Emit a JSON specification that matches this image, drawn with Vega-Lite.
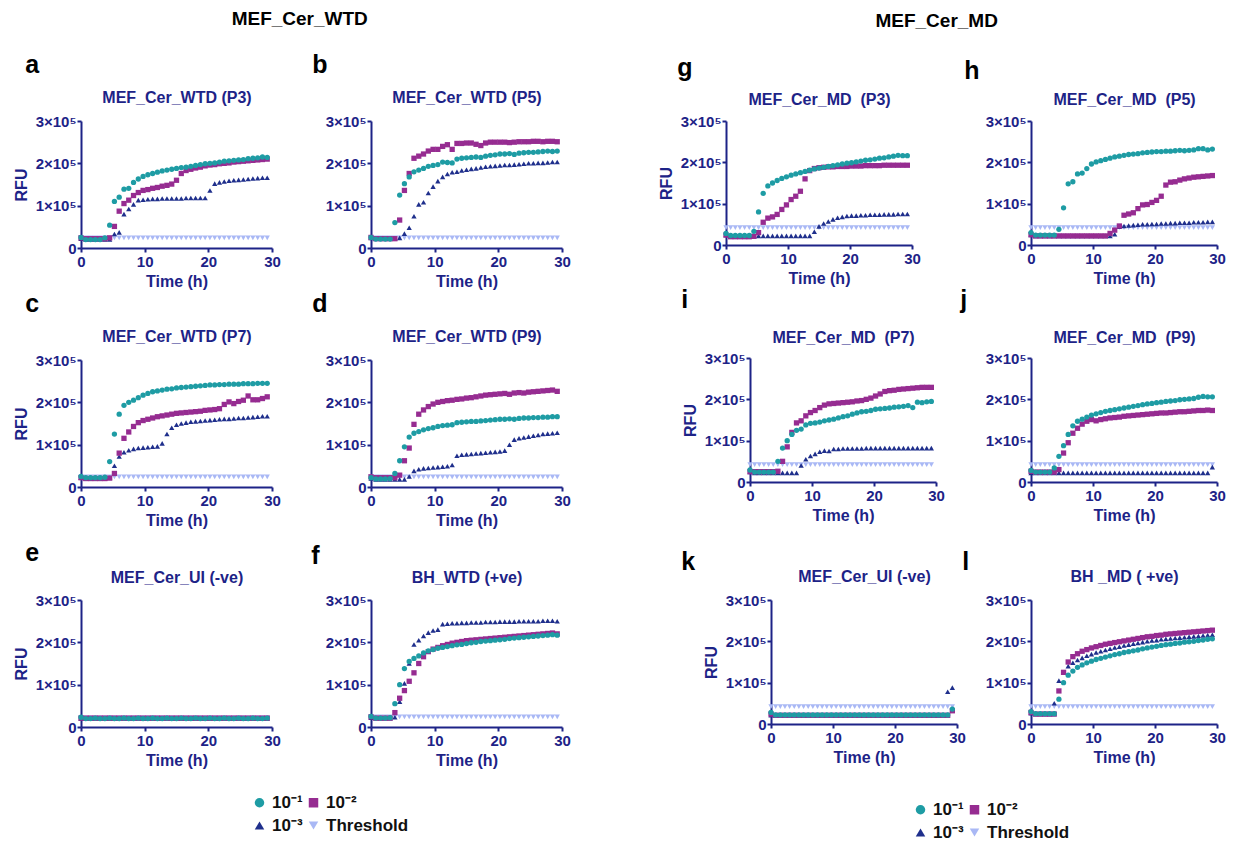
{
"$schema":"https://vega.github.io/schema/vega-lite/v6.json",
"background":"white",
"padding":{"left":13,"top":10,"right":0,"bottom":0},
"datasets":{
"a":[{"t":0,"d1":25,"d2":24,"d3":22,"th":24},{"t":0.75,"d1":20,"d2":22,"d3":20,"th":24},{"t":1.5,"d1":20,"d2":22,"d3":20,"th":24},{"t":2.25,"d1":20,"d2":22,"d3":20,"th":24},{"t":3,"d1":20,"d2":22,"d3":20,"th":24},{"t":3.75,"d1":24,"d2":22,"d3":20,"th":24},{"t":4.5,"d1":54,"d2":24,"d3":20,"th":24},{"t":5.25,"d1":110,"d2":51,"d3":33,"th":24},{"t":6,"d1":120,"d2":87,"d3":37,"th":24},{"t":6.75,"d1":139,"d2":105,"d3":80,"th":24},{"t":7.5,"d1":141,"d2":113,"d3":92,"th":24},{"t":8.25,"d1":155,"d2":124,"d3":103,"th":24},{"t":9,"d1":163,"d2":131,"d3":113,"th":24},{"t":9.75,"d1":169,"d2":136,"d3":114,"th":24},{"t":10.5,"d1":173,"d2":138,"d3":115,"th":24},{"t":11.25,"d1":176,"d2":141,"d3":116,"th":24},{"t":12,"d1":179,"d2":143,"d3":116,"th":24},{"t":12.75,"d1":182,"d2":146,"d3":117,"th":24},{"t":13.5,"d1":184,"d2":148,"d3":117,"th":24},{"t":14.25,"d1":186,"d2":151,"d3":117,"th":24},{"t":15,"d1":188,"d2":160,"d3":117,"th":24},{"t":15.75,"d1":190,"d2":176,"d3":117,"th":24},{"t":16.5,"d1":191,"d2":183,"d3":118,"th":24},{"t":17.25,"d1":193,"d2":186,"d3":118,"th":24},{"t":18,"d1":195,"d2":189,"d3":118,"th":24},{"t":18.75,"d1":197,"d2":191,"d3":118,"th":24},{"t":19.5,"d1":199,"d2":194,"d3":118,"th":24},{"t":20.25,"d1":200,"d2":196,"d3":136,"th":24},{"t":21,"d1":201,"d2":197,"d3":152,"th":24},{"t":21.75,"d1":203,"d2":199,"d3":155,"th":24},{"t":22.5,"d1":205,"d2":200,"d3":157,"th":24},{"t":23.25,"d1":206,"d2":201,"d3":159,"th":24},{"t":24,"d1":207,"d2":203,"d3":160,"th":24},{"t":24.75,"d1":208,"d2":204,"d3":161,"th":24},{"t":25.5,"d1":209,"d2":205,"d3":162,"th":24},{"t":26.25,"d1":211,"d2":206,"d3":163,"th":24},{"t":27,"d1":212,"d2":207,"d3":164,"th":24},{"t":27.75,"d1":213,"d2":208,"d3":165,"th":24},{"t":28.5,"d1":215,"d2":209,"d3":166,"th":24},{"t":29.25,"d1":214,"d2":210,"d3":166,"th":24}],
"b":[{"t":0,"d1":25,"d2":25,"d3":24,"th":24},{"t":0.75,"d1":21,"d2":22,"d3":22,"th":24},{"t":1.5,"d1":21,"d2":22,"d3":22,"th":24},{"t":2.25,"d1":21,"d2":22,"d3":22,"th":24},{"t":3,"d1":21,"d2":22,"d3":22,"th":24},{"t":3.75,"d1":60,"d2":22,"d3":22,"th":24},{"t":4.5,"d1":125,"d2":66,"d3":24,"th":24},{"t":5.25,"d1":152,"d2":136,"d3":34,"th":24},{"t":6,"d1":168,"d2":176,"d3":48,"th":24},{"t":6.75,"d1":180,"d2":212,"d3":75,"th":24},{"t":7.5,"d1":184,"d2":217,"d3":103,"th":24},{"t":8.25,"d1":188,"d2":222,"d3":108,"th":24},{"t":9,"d1":193,"d2":229,"d3":130,"th":24},{"t":9.75,"d1":195,"d2":233,"d3":145,"th":24},{"t":10.5,"d1":197,"d2":233,"d3":158,"th":24},{"t":11.25,"d1":203,"d2":240,"d3":168,"th":24},{"t":12,"d1":202,"d2":244,"d3":175,"th":24},{"t":12.75,"d1":201,"d2":233,"d3":179,"th":24},{"t":13.5,"d1":210,"d2":247,"d3":180,"th":24},{"t":14.25,"d1":212,"d2":247,"d3":183,"th":24},{"t":15,"d1":213,"d2":248,"d3":185,"th":24},{"t":15.75,"d1":214,"d2":248,"d3":187,"th":24},{"t":16.5,"d1":215,"d2":245,"d3":188,"th":24},{"t":17.25,"d1":214,"d2":242,"d3":190,"th":24},{"t":18,"d1":217,"d2":248,"d3":192,"th":24},{"t":18.75,"d1":219,"d2":250,"d3":193,"th":24},{"t":19.5,"d1":220,"d2":250,"d3":194,"th":24},{"t":20.25,"d1":222,"d2":250,"d3":195,"th":24},{"t":21,"d1":222,"d2":250,"d3":196,"th":24},{"t":21.75,"d1":223,"d2":249,"d3":196,"th":24},{"t":22.5,"d1":221,"d2":250,"d3":197,"th":24},{"t":23.25,"d1":224,"d2":251,"d3":198,"th":24},{"t":24,"d1":225,"d2":251,"d3":199,"th":24},{"t":24.75,"d1":226,"d2":251,"d3":200,"th":24},{"t":25.5,"d1":226,"d2":252,"d3":200,"th":24},{"t":26.25,"d1":227,"d2":252,"d3":201,"th":24},{"t":27,"d1":228,"d2":251,"d3":201,"th":24},{"t":27.75,"d1":229,"d2":252,"d3":202,"th":24},{"t":28.5,"d1":228,"d2":252,"d3":203,"th":24},{"t":29.25,"d1":229,"d2":251,"d3":203,"th":24}],
"c":[{"t":0,"d1":25,"d2":22,"d3":22,"th":24},{"t":0.75,"d1":22,"d2":20,"d3":20,"th":24},{"t":1.5,"d1":22,"d2":20,"d3":20,"th":24},{"t":2.25,"d1":22,"d2":20,"d3":20,"th":24},{"t":3,"d1":22,"d2":20,"d3":20,"th":24},{"t":3.75,"d1":23,"d2":20,"d3":20,"th":24},{"t":4.5,"d1":60,"d2":21,"d3":22,"th":24},{"t":5.25,"d1":125,"d2":32,"d3":50,"th":24},{"t":6,"d1":172,"d2":80,"d3":72,"th":24},{"t":6.75,"d1":193,"d2":115,"d3":82,"th":24},{"t":7.5,"d1":200,"d2":130,"d3":87,"th":24},{"t":8.25,"d1":205,"d2":143,"d3":90,"th":24},{"t":9,"d1":211,"d2":152,"d3":92,"th":24},{"t":9.75,"d1":217,"d2":157,"d3":93,"th":24},{"t":10.5,"d1":221,"d2":160,"d3":94,"th":24},{"t":11.25,"d1":225,"d2":163,"d3":95,"th":24},{"t":12,"d1":227,"d2":166,"d3":96,"th":24},{"t":12.75,"d1":229,"d2":168,"d3":103,"th":24},{"t":13.5,"d1":231,"d2":170,"d3":125,"th":24},{"t":14.25,"d1":232,"d2":172,"d3":140,"th":24},{"t":15,"d1":234,"d2":174,"d3":147,"th":24},{"t":15.75,"d1":235,"d2":175,"d3":150,"th":24},{"t":16.5,"d1":236,"d2":176,"d3":152,"th":24},{"t":17.25,"d1":237,"d2":177,"d3":154,"th":24},{"t":18,"d1":238,"d2":178,"d3":155,"th":24},{"t":18.75,"d1":239,"d2":179,"d3":156,"th":24},{"t":19.5,"d1":240,"d2":181,"d3":157,"th":24},{"t":20.25,"d1":241,"d2":182,"d3":158,"th":24},{"t":21,"d1":241,"d2":183,"d3":159,"th":24},{"t":21.75,"d1":242,"d2":185,"d3":160,"th":24},{"t":22.5,"d1":242,"d2":195,"d3":161,"th":24},{"t":23.25,"d1":243,"d2":201,"d3":161,"th":24},{"t":24,"d1":243,"d2":197,"d3":162,"th":24},{"t":24.75,"d1":243,"d2":202,"d3":163,"th":24},{"t":25.5,"d1":244,"d2":205,"d3":163,"th":24},{"t":26.25,"d1":244,"d2":215,"d3":164,"th":24},{"t":27,"d1":244,"d2":206,"d3":165,"th":24},{"t":27.75,"d1":245,"d2":206,"d3":166,"th":24},{"t":28.5,"d1":245,"d2":209,"d3":167,"th":24},{"t":29.25,"d1":245,"d2":213,"d3":167,"th":24}],
"d":[{"t":0,"d1":22,"d2":24,"d3":20,"th":24},{"t":0.75,"d1":19,"d2":22,"d3":18,"th":24},{"t":1.5,"d1":19,"d2":22,"d3":18,"th":24},{"t":2.25,"d1":19,"d2":22,"d3":18,"th":24},{"t":3,"d1":20,"d2":22,"d3":18,"th":24},{"t":3.75,"d1":32,"d2":22,"d3":18,"th":24},{"t":4.5,"d1":62,"d2":28,"d3":18,"th":24},{"t":5.25,"d1":95,"d2":62,"d3":18,"th":24},{"t":6,"d1":118,"d2":92,"d3":25,"th":24},{"t":6.75,"d1":127,"d2":148,"d3":38,"th":24},{"t":7.5,"d1":131,"d2":172,"d3":42,"th":24},{"t":8.25,"d1":135,"d2":182,"d3":44,"th":24},{"t":9,"d1":138,"d2":190,"d3":45,"th":24},{"t":9.75,"d1":140,"d2":196,"d3":46,"th":24},{"t":10.5,"d1":143,"d2":200,"d3":47,"th":24},{"t":11.25,"d1":145,"d2":202,"d3":48,"th":24},{"t":12,"d1":146,"d2":204,"d3":49,"th":24},{"t":12.75,"d1":147,"d2":205,"d3":52,"th":24},{"t":13.5,"d1":152,"d2":207,"d3":74,"th":24},{"t":14.25,"d1":153,"d2":208,"d3":76,"th":24},{"t":15,"d1":154,"d2":210,"d3":77,"th":24},{"t":15.75,"d1":155,"d2":211,"d3":78,"th":24},{"t":16.5,"d1":155,"d2":213,"d3":79,"th":24},{"t":17.25,"d1":156,"d2":215,"d3":80,"th":24},{"t":18,"d1":157,"d2":217,"d3":81,"th":24},{"t":18.75,"d1":158,"d2":218,"d3":82,"th":24},{"t":19.5,"d1":159,"d2":219,"d3":83,"th":24},{"t":20.25,"d1":160,"d2":220,"d3":84,"th":24},{"t":21,"d1":160,"d2":221,"d3":86,"th":24},{"t":21.75,"d1":161,"d2":219,"d3":100,"th":24},{"t":22.5,"d1":160,"d2":222,"d3":112,"th":24},{"t":23.25,"d1":162,"d2":223,"d3":115,"th":24},{"t":24,"d1":163,"d2":222,"d3":117,"th":24},{"t":24.75,"d1":163,"d2":224,"d3":119,"th":24},{"t":25.5,"d1":164,"d2":225,"d3":121,"th":24},{"t":26.25,"d1":164,"d2":226,"d3":123,"th":24},{"t":27,"d1":165,"d2":227,"d3":125,"th":24},{"t":27.75,"d1":165,"d2":228,"d3":126,"th":24},{"t":28.5,"d1":166,"d2":229,"d3":127,"th":24},{"t":29.25,"d1":166,"d2":226,"d3":128,"th":24}],
"e":[{"t":0,"d1":23,"d2":21,"d3":20,"th":22},{"t":0.75,"d1":20,"d2":21,"d3":20,"th":22},{"t":1.5,"d1":20,"d2":21,"d3":20,"th":22},{"t":2.25,"d1":21,"d2":21,"d3":20,"th":22},{"t":3,"d1":20,"d2":21,"d3":20,"th":22},{"t":3.75,"d1":20,"d2":21,"d3":20,"th":22},{"t":4.5,"d1":21,"d2":21,"d3":20,"th":22},{"t":5.25,"d1":20,"d2":21,"d3":20,"th":22},{"t":6,"d1":20,"d2":21,"d3":20,"th":22},{"t":6.75,"d1":21,"d2":21,"d3":20,"th":22},{"t":7.5,"d1":20,"d2":21,"d3":20,"th":22},{"t":8.25,"d1":20,"d2":21,"d3":20,"th":22},{"t":9,"d1":21,"d2":21,"d3":20,"th":22},{"t":9.75,"d1":20,"d2":21,"d3":20,"th":22},{"t":10.5,"d1":20,"d2":21,"d3":20,"th":22},{"t":11.25,"d1":21,"d2":21,"d3":20,"th":22},{"t":12,"d1":20,"d2":21,"d3":20,"th":22},{"t":12.75,"d1":20,"d2":21,"d3":20,"th":22},{"t":13.5,"d1":21,"d2":21,"d3":20,"th":22},{"t":14.25,"d1":20,"d2":21,"d3":20,"th":22},{"t":15,"d1":20,"d2":21,"d3":20,"th":22},{"t":15.75,"d1":21,"d2":21,"d3":20,"th":22},{"t":16.5,"d1":20,"d2":21,"d3":20,"th":22},{"t":17.25,"d1":20,"d2":21,"d3":20,"th":22},{"t":18,"d1":21,"d2":21,"d3":20,"th":22},{"t":18.75,"d1":20,"d2":21,"d3":20,"th":22},{"t":19.5,"d1":20,"d2":21,"d3":20,"th":22},{"t":20.25,"d1":21,"d2":21,"d3":20,"th":22},{"t":21,"d1":20,"d2":21,"d3":20,"th":22},{"t":21.75,"d1":20,"d2":21,"d3":20,"th":22},{"t":22.5,"d1":21,"d2":21,"d3":20,"th":22},{"t":23.25,"d1":20,"d2":21,"d3":20,"th":22},{"t":24,"d1":20,"d2":21,"d3":20,"th":22},{"t":24.75,"d1":21,"d2":21,"d3":20,"th":22},{"t":25.5,"d1":20,"d2":21,"d3":20,"th":22},{"t":26.25,"d1":20,"d2":21,"d3":20,"th":22},{"t":27,"d1":21,"d2":21,"d3":20,"th":22},{"t":27.75,"d1":20,"d2":21,"d3":20,"th":22},{"t":28.5,"d1":20,"d2":21,"d3":20,"th":22},{"t":29.25,"d1":21,"d2":21,"d3":20,"th":22}],
"f":[{"t":0,"d1":25,"d2":24,"d3":22,"th":24},{"t":0.75,"d1":21,"d2":21,"d3":21,"th":24},{"t":1.5,"d1":21,"d2":21,"d3":21,"th":24},{"t":2.25,"d1":21,"d2":21,"d3":21,"th":24},{"t":3,"d1":22,"d2":21,"d3":21,"th":24},{"t":3.75,"d1":55,"d2":34,"d3":23,"th":24},{"t":4.5,"d1":100,"d2":68,"d3":60,"th":24},{"t":5.25,"d1":138,"d2":86,"d3":103,"th":24},{"t":6,"d1":155,"d2":108,"d3":150,"th":24},{"t":6.75,"d1":162,"d2":128,"d3":195,"th":24},{"t":7.5,"d1":168,"d2":150,"d3":205,"th":24},{"t":8.25,"d1":175,"d2":166,"d3":215,"th":24},{"t":9,"d1":180,"d2":178,"d3":223,"th":24},{"t":9.75,"d1":183,"d2":184,"d3":228,"th":24},{"t":10.5,"d1":186,"d2":188,"d3":230,"th":24},{"t":11.25,"d1":188,"d2":192,"d3":243,"th":24},{"t":12,"d1":190,"d2":195,"d3":244,"th":24},{"t":12.75,"d1":192,"d2":198,"d3":245,"th":24},{"t":13.5,"d1":194,"d2":200,"d3":245,"th":24},{"t":14.25,"d1":195,"d2":202,"d3":246,"th":24},{"t":15,"d1":197,"d2":204,"d3":246,"th":24},{"t":15.75,"d1":199,"d2":205,"d3":247,"th":24},{"t":16.5,"d1":200,"d2":206,"d3":247,"th":24},{"t":17.25,"d1":202,"d2":207,"d3":247,"th":24},{"t":18,"d1":203,"d2":208,"d3":248,"th":24},{"t":18.75,"d1":204,"d2":209,"d3":248,"th":24},{"t":19.5,"d1":205,"d2":210,"d3":248,"th":24},{"t":20.25,"d1":206,"d2":211,"d3":249,"th":24},{"t":21,"d1":207,"d2":212,"d3":249,"th":24},{"t":21.75,"d1":209,"d2":213,"d3":249,"th":24},{"t":22.5,"d1":210,"d2":214,"d3":249,"th":24},{"t":23.25,"d1":211,"d2":215,"d3":250,"th":24},{"t":24,"d1":212,"d2":216,"d3":250,"th":24},{"t":24.75,"d1":213,"d2":217,"d3":250,"th":24},{"t":25.5,"d1":214,"d2":218,"d3":250,"th":24},{"t":26.25,"d1":215,"d2":219,"d3":250,"th":24},{"t":27,"d1":216,"d2":220,"d3":251,"th":24},{"t":27.75,"d1":217,"d2":221,"d3":251,"th":24},{"t":28.5,"d1":218,"d2":222,"d3":251,"th":24},{"t":29.25,"d1":217,"d2":220,"d3":250,"th":24}],
"g":[{"t":0,"d1":28,"d2":24,"d3":24,"th":42},{"t":0.75,"d1":23,"d2":20,"d3":22,"th":42},{"t":1.5,"d1":23,"d2":20,"d3":22,"th":42},{"t":2.25,"d1":23,"d2":20,"d3":22,"th":42},{"t":3,"d1":23,"d2":20,"d3":22,"th":42},{"t":3.75,"d1":23,"d2":20,"d3":22,"th":42},{"t":4.5,"d1":33,"d2":21,"d3":22,"th":42},{"t":5.25,"d1":80,"d2":30,"d3":22,"th":42},{"t":6,"d1":125,"d2":55,"d3":22,"th":42},{"t":6.75,"d1":143,"d2":65,"d3":22,"th":42},{"t":7.5,"d1":150,"d2":68,"d3":22,"th":42},{"t":8.25,"d1":156,"d2":74,"d3":22,"th":42},{"t":9,"d1":161,"d2":86,"d3":22,"th":42},{"t":9.75,"d1":165,"d2":97,"d3":22,"th":42},{"t":10.5,"d1":169,"d2":110,"d3":22,"th":42},{"t":11.25,"d1":172,"d2":118,"d3":22,"th":42},{"t":12,"d1":175,"d2":130,"d3":22,"th":42},{"t":12.75,"d1":178,"d2":160,"d3":22,"th":42},{"t":13.5,"d1":181,"d2":180,"d3":22,"th":42},{"t":14.25,"d1":184,"d2":185,"d3":32,"th":42},{"t":15,"d1":186,"d2":187,"d3":45,"th":42},{"t":15.75,"d1":188,"d2":188,"d3":52,"th":42},{"t":16.5,"d1":190,"d2":189,"d3":57,"th":42},{"t":17.25,"d1":192,"d2":189,"d3":62,"th":42},{"t":18,"d1":194,"d2":190,"d3":66,"th":42},{"t":18.75,"d1":196,"d2":190,"d3":68,"th":42},{"t":19.5,"d1":198,"d2":190,"d3":70,"th":42},{"t":20.25,"d1":199,"d2":191,"d3":71,"th":42},{"t":21,"d1":201,"d2":191,"d3":71,"th":42},{"t":21.75,"d1":203,"d2":191,"d3":72,"th":42},{"t":22.5,"d1":205,"d2":192,"d3":72,"th":42},{"t":23.25,"d1":206,"d2":192,"d3":73,"th":42},{"t":24,"d1":208,"d2":192,"d3":73,"th":42},{"t":24.75,"d1":210,"d2":192,"d3":73,"th":42},{"t":25.5,"d1":211,"d2":193,"d3":74,"th":42},{"t":26.25,"d1":213,"d2":193,"d3":74,"th":42},{"t":27,"d1":215,"d2":193,"d3":74,"th":42},{"t":27.75,"d1":217,"d2":193,"d3":75,"th":42},{"t":28.5,"d1":216,"d2":193,"d3":75,"th":42},{"t":29.25,"d1":216,"d2":193,"d3":75,"th":42}],
"h":[{"t":0,"d1":30,"d2":25,"d3":24,"th":42},{"t":0.75,"d1":24,"d2":22,"d3":22,"th":42},{"t":1.5,"d1":24,"d2":22,"d3":22,"th":42},{"t":2.25,"d1":24,"d2":22,"d3":22,"th":42},{"t":3,"d1":24,"d2":22,"d3":22,"th":42},{"t":3.75,"d1":24,"d2":22,"d3":22,"th":42},{"t":4.5,"d1":38,"d2":22,"d3":22,"th":42},{"t":5.25,"d1":90,"d2":22,"d3":22,"th":42},{"t":6,"d1":148,"d2":22,"d3":22,"th":42},{"t":6.75,"d1":153,"d2":22,"d3":22,"th":42},{"t":7.5,"d1":172,"d2":22,"d3":22,"th":42},{"t":8.25,"d1":174,"d2":22,"d3":22,"th":42},{"t":9,"d1":185,"d2":22,"d3":22,"th":42},{"t":9.75,"d1":196,"d2":22,"d3":22,"th":42},{"t":10.5,"d1":201,"d2":22,"d3":22,"th":42},{"t":11.25,"d1":204,"d2":22,"d3":22,"th":42},{"t":12,"d1":207,"d2":22,"d3":22,"th":42},{"t":12.75,"d1":210,"d2":28,"d3":22,"th":42},{"t":13.5,"d1":213,"d2":36,"d3":26,"th":42},{"t":14.25,"d1":215,"d2":46,"d3":44,"th":42},{"t":15,"d1":217,"d2":72,"d3":46,"th":42},{"t":15.75,"d1":219,"d2":75,"d3":47,"th":42},{"t":16.5,"d1":220,"d2":78,"d3":48,"th":42},{"t":17.25,"d1":221,"d2":88,"d3":49,"th":42},{"t":18,"d1":223,"d2":97,"d3":50,"th":42},{"t":18.75,"d1":224,"d2":98,"d3":50,"th":42},{"t":19.5,"d1":225,"d2":103,"d3":51,"th":42},{"t":20.25,"d1":226,"d2":108,"d3":51,"th":42},{"t":21,"d1":226,"d2":118,"d3":52,"th":42},{"t":21.75,"d1":227,"d2":145,"d3":52,"th":42},{"t":22.5,"d1":227,"d2":152,"d3":53,"th":42},{"t":23.25,"d1":228,"d2":153,"d3":53,"th":42},{"t":24,"d1":229,"d2":157,"d3":54,"th":42},{"t":24.75,"d1":228,"d2":160,"d3":54,"th":42},{"t":25.5,"d1":229,"d2":162,"d3":54,"th":42},{"t":26.25,"d1":230,"d2":164,"d3":55,"th":42},{"t":27,"d1":233,"d2":165,"d3":55,"th":42},{"t":27.75,"d1":233,"d2":166,"d3":55,"th":42},{"t":28.5,"d1":230,"d2":167,"d3":56,"th":42},{"t":29.25,"d1":232,"d2":168,"d3":56,"th":42}],
"i":[{"t":0,"d1":29,"d2":25,"d3":24,"th":42},{"t":0.75,"d1":24,"d2":25,"d3":22,"th":42},{"t":1.5,"d1":24,"d2":25,"d3":22,"th":42},{"t":2.25,"d1":24,"d2":25,"d3":22,"th":42},{"t":3,"d1":24,"d2":25,"d3":22,"th":42},{"t":3.75,"d1":24,"d2":25,"d3":22,"th":42},{"t":4.5,"d1":50,"d2":26,"d3":22,"th":42},{"t":5.25,"d1":82,"d2":50,"d3":22,"th":42},{"t":6,"d1":100,"d2":85,"d3":22,"th":42},{"t":6.75,"d1":115,"d2":120,"d3":22,"th":42},{"t":7.5,"d1":125,"d2":143,"d3":22,"th":42},{"t":8.25,"d1":128,"d2":148,"d3":40,"th":42},{"t":9,"d1":138,"d2":160,"d3":55,"th":42},{"t":9.75,"d1":142,"d2":168,"d3":63,"th":42},{"t":10.5,"d1":143,"d2":173,"d3":68,"th":42},{"t":11.25,"d1":145,"d2":180,"d3":73,"th":42},{"t":12,"d1":148,"d2":186,"d3":76,"th":42},{"t":12.75,"d1":150,"d2":189,"d3":75,"th":42},{"t":13.5,"d1":152,"d2":190,"d3":80,"th":42},{"t":14.25,"d1":155,"d2":191,"d3":80,"th":42},{"t":15,"d1":158,"d2":192,"d3":81,"th":42},{"t":15.75,"d1":160,"d2":193,"d3":81,"th":42},{"t":16.5,"d1":164,"d2":194,"d3":81,"th":42},{"t":17.25,"d1":167,"d2":196,"d3":81,"th":42},{"t":18,"d1":170,"d2":197,"d3":81,"th":42},{"t":18.75,"d1":171,"d2":200,"d3":82,"th":42},{"t":19.5,"d1":173,"d2":203,"d3":82,"th":42},{"t":20.25,"d1":176,"d2":208,"d3":82,"th":42},{"t":21,"d1":177,"d2":213,"d3":82,"th":42},{"t":21.75,"d1":178,"d2":219,"d3":82,"th":42},{"t":22.5,"d1":179,"d2":221,"d3":82,"th":42},{"t":23.25,"d1":181,"d2":222,"d3":82,"th":42},{"t":24,"d1":182,"d2":224,"d3":82,"th":42},{"t":24.75,"d1":183,"d2":225,"d3":82,"th":42},{"t":25.5,"d1":185,"d2":226,"d3":82,"th":42},{"t":26.25,"d1":180,"d2":227,"d3":82,"th":42},{"t":27,"d1":193,"d2":228,"d3":82,"th":42},{"t":27.75,"d1":192,"d2":229,"d3":82,"th":42},{"t":28.5,"d1":194,"d2":229,"d3":82,"th":42},{"t":29.25,"d1":195,"d2":229,"d3":82,"th":42}],
"j":[{"t":0,"d1":28,"d2":26,"d3":22,"th":42},{"t":0.75,"d1":24,"d2":24,"d3":22,"th":42},{"t":1.5,"d1":24,"d2":24,"d3":22,"th":42},{"t":2.25,"d1":24,"d2":24,"d3":22,"th":42},{"t":3,"d1":24,"d2":24,"d3":22,"th":42},{"t":3.75,"d1":34,"d2":24,"d3":22,"th":42},{"t":4.5,"d1":62,"d2":30,"d3":22,"th":42},{"t":5.25,"d1":88,"d2":70,"d3":22,"th":42},{"t":6,"d1":115,"d2":95,"d3":22,"th":42},{"t":6.75,"d1":136,"d2":118,"d3":22,"th":42},{"t":7.5,"d1":147,"d2":130,"d3":22,"th":42},{"t":8.25,"d1":152,"d2":140,"d3":22,"th":42},{"t":9,"d1":157,"d2":147,"d3":22,"th":42},{"t":9.75,"d1":162,"d2":151,"d3":22,"th":42},{"t":10.5,"d1":165,"d2":148,"d3":22,"th":42},{"t":11.25,"d1":168,"d2":151,"d3":22,"th":42},{"t":12,"d1":171,"d2":153,"d3":22,"th":42},{"t":12.75,"d1":173,"d2":155,"d3":22,"th":42},{"t":13.5,"d1":175,"d2":156,"d3":22,"th":42},{"t":14.25,"d1":177,"d2":157,"d3":22,"th":42},{"t":15,"d1":179,"d2":159,"d3":22,"th":42},{"t":15.75,"d1":181,"d2":160,"d3":22,"th":42},{"t":16.5,"d1":183,"d2":161,"d3":22,"th":42},{"t":17.25,"d1":185,"d2":162,"d3":22,"th":42},{"t":18,"d1":187,"d2":163,"d3":22,"th":42},{"t":18.75,"d1":189,"d2":164,"d3":22,"th":42},{"t":19.5,"d1":190,"d2":165,"d3":22,"th":42},{"t":20.25,"d1":192,"d2":166,"d3":22,"th":42},{"t":21,"d1":193,"d2":167,"d3":22,"th":42},{"t":21.75,"d1":195,"d2":167,"d3":22,"th":42},{"t":22.5,"d1":196,"d2":168,"d3":22,"th":42},{"t":23.25,"d1":197,"d2":169,"d3":22,"th":42},{"t":24,"d1":199,"d2":170,"d3":22,"th":42},{"t":24.75,"d1":200,"d2":170,"d3":22,"th":42},{"t":25.5,"d1":201,"d2":171,"d3":22,"th":42},{"t":26.25,"d1":202,"d2":172,"d3":22,"th":42},{"t":27,"d1":205,"d2":173,"d3":22,"th":42},{"t":27.75,"d1":207,"d2":173,"d3":22,"th":42},{"t":28.5,"d1":206,"d2":174,"d3":22,"th":42},{"t":29.25,"d1":206,"d2":173,"d3":36,"th":42}],
"k":[{"t":0,"d1":28,"d2":24,"d3":21,"th":42},{"t":0.75,"d1":22,"d2":21,"d3":21,"th":42},{"t":1.5,"d1":22,"d2":21,"d3":21,"th":42},{"t":2.25,"d1":22,"d2":21,"d3":21,"th":42},{"t":3,"d1":22,"d2":21,"d3":21,"th":42},{"t":3.75,"d1":22,"d2":21,"d3":21,"th":42},{"t":4.5,"d1":22,"d2":21,"d3":21,"th":42},{"t":5.25,"d1":22,"d2":21,"d3":21,"th":42},{"t":6,"d1":22,"d2":21,"d3":21,"th":42},{"t":6.75,"d1":22,"d2":21,"d3":21,"th":42},{"t":7.5,"d1":22,"d2":21,"d3":21,"th":42},{"t":8.25,"d1":22,"d2":21,"d3":21,"th":42},{"t":9,"d1":22,"d2":21,"d3":21,"th":42},{"t":9.75,"d1":22,"d2":21,"d3":21,"th":42},{"t":10.5,"d1":22,"d2":21,"d3":21,"th":42},{"t":11.25,"d1":22,"d2":21,"d3":21,"th":42},{"t":12,"d1":22,"d2":21,"d3":21,"th":42},{"t":12.75,"d1":22,"d2":21,"d3":21,"th":42},{"t":13.5,"d1":22,"d2":21,"d3":21,"th":42},{"t":14.25,"d1":22,"d2":21,"d3":21,"th":42},{"t":15,"d1":22,"d2":21,"d3":21,"th":42},{"t":15.75,"d1":22,"d2":21,"d3":21,"th":42},{"t":16.5,"d1":22,"d2":21,"d3":21,"th":42},{"t":17.25,"d1":22,"d2":21,"d3":21,"th":42},{"t":18,"d1":22,"d2":21,"d3":21,"th":42},{"t":18.75,"d1":22,"d2":21,"d3":21,"th":42},{"t":19.5,"d1":22,"d2":21,"d3":21,"th":42},{"t":20.25,"d1":22,"d2":21,"d3":21,"th":42},{"t":21,"d1":22,"d2":21,"d3":21,"th":42},{"t":21.75,"d1":22,"d2":21,"d3":21,"th":42},{"t":22.5,"d1":22,"d2":21,"d3":21,"th":42},{"t":23.25,"d1":22,"d2":21,"d3":21,"th":42},{"t":24,"d1":22,"d2":21,"d3":21,"th":42},{"t":24.75,"d1":22,"d2":21,"d3":21,"th":42},{"t":25.5,"d1":22,"d2":21,"d3":21,"th":42},{"t":26.25,"d1":22,"d2":21,"d3":21,"th":42},{"t":27,"d1":22,"d2":21,"d3":21,"th":42},{"t":27.75,"d1":22,"d2":21,"d3":21,"th":42},{"t":28.5,"d1":22,"d2":21,"d3":78,"th":42},{"t":29.25,"d1":36,"d2":32,"d3":88,"th":42}],
"l":[{"t":0,"d1":30,"d2":28,"d3":26,"th":42},{"t":0.75,"d1":25,"d2":24,"d3":24,"th":42},{"t":1.5,"d1":25,"d2":24,"d3":24,"th":42},{"t":2.25,"d1":25,"d2":24,"d3":24,"th":42},{"t":3,"d1":25,"d2":24,"d3":24,"th":42},{"t":3.75,"d1":25,"d2":24,"d3":50,"th":42},{"t":4.5,"d1":60,"d2":80,"d3":105,"th":42},{"t":5.25,"d1":100,"d2":125,"d3":125,"th":42},{"t":6,"d1":118,"d2":150,"d3":140,"th":42},{"t":6.75,"d1":128,"d2":163,"d3":148,"th":42},{"t":7.5,"d1":137,"d2":170,"d3":155,"th":42},{"t":8.25,"d1":143,"d2":176,"d3":160,"th":42},{"t":9,"d1":148,"d2":180,"d3":165,"th":42},{"t":9.75,"d1":152,"d2":184,"d3":169,"th":42},{"t":10.5,"d1":156,"d2":187,"d3":173,"th":42},{"t":11.25,"d1":159,"d2":190,"d3":176,"th":42},{"t":12,"d1":162,"d2":193,"d3":179,"th":42},{"t":12.75,"d1":165,"d2":195,"d3":182,"th":42},{"t":13.5,"d1":168,"d2":197,"d3":185,"th":42},{"t":14.25,"d1":170,"d2":199,"d3":187,"th":42},{"t":15,"d1":173,"d2":201,"d3":190,"th":42},{"t":15.75,"d1":175,"d2":203,"d3":192,"th":42},{"t":16.5,"d1":177,"d2":205,"d3":194,"th":42},{"t":17.25,"d1":179,"d2":207,"d3":196,"th":42},{"t":18,"d1":182,"d2":209,"d3":198,"th":42},{"t":18.75,"d1":184,"d2":211,"d3":200,"th":42},{"t":19.5,"d1":186,"d2":212,"d3":202,"th":42},{"t":20.25,"d1":188,"d2":214,"d3":203,"th":42},{"t":21,"d1":190,"d2":215,"d3":205,"th":42},{"t":21.75,"d1":192,"d2":217,"d3":206,"th":42},{"t":22.5,"d1":193,"d2":218,"d3":207,"th":42},{"t":23.25,"d1":195,"d2":219,"d3":208,"th":42},{"t":24,"d1":196,"d2":220,"d3":209,"th":42},{"t":24.75,"d1":198,"d2":221,"d3":210,"th":42},{"t":25.5,"d1":199,"d2":222,"d3":211,"th":42},{"t":26.25,"d1":200,"d2":223,"d3":212,"th":42},{"t":27,"d1":202,"d2":224,"d3":213,"th":42},{"t":27.75,"d1":203,"d2":225,"d3":214,"th":42},{"t":28.5,"d1":205,"d2":226,"d3":215,"th":42},{"t":29.25,"d1":206,"d2":227,"d3":216,"th":42}]
},
"hconcat":[
{"title":{"text":"MEF_Cer_WTD","anchor":"middle","fontSize":19,"offset":24,"dx":8},
 "vconcat":[
 {"vconcat":[
  {"hconcat":[
   {"width":191,"height":127,"data":{"name":"a"},"transform":[{"fold":["th","d3","d2","d1"],"as":["s","v"]}],"title":{"text":"a","dx":12,"offset":11},"resolve":{"axis":{"x":"independent"}},
    "layer":[{"mark":"point","encoding":{"x":{"field":"t","type":"quantitative","scale":{"domain":[0,30]},"axis":{"orient":"bottom","title":"Time (h)","values":[0,10,20,30]}},"y":{"field":"v","type":"quantitative","scale":{"domain":[0,300]},"axis":{"title":"RFU","values":[0,100,200,300],"labelExpr":"datum.value == 0 ? '0' : datum.value / 100 + '×10⁵'"}},"color":{"field":"s","type":"nominal","legend":{"title":null,"legendX":170,"legendY":673,"labelExpr":"datum.label == 'd1' ? '10⁻¹' : datum.label == 'd2' ? '10⁻²' : datum.label == 'd3' ? '10⁻³' : 'Threshold'"}},"shape":{"field":"s","type":"nominal","legend":{"title":null,"legendX":170,"legendY":673,"labelExpr":"datum.label == 'd1' ? '10⁻¹' : datum.label == 'd2' ? '10⁻²' : datum.label == 'd3' ? '10⁻³' : 'Threshold'"}},"order":{"field":"s","type":"ordinal","sort":"descending"}}},
     {"mark":{"type":"point","opacity":0},"encoding":{"x":{"field":"t","type":"quantitative","axis":{"orient":"top","title":"MEF_Cer_WTD (P3)","labels":false,"ticks":false,"domain":false,"titlePadding":19,"titleBaseline":"alphabetic"}}}}]},
   {"width":191,"height":127,"data":{"name":"b"},"transform":[{"fold":["th","d3","d2","d1"],"as":["s","v"]}],"title":{"text":"b","dx":-13,"offset":11},"resolve":{"axis":{"x":"independent"}},
    "layer":[{"mark":"point","encoding":{"x":{"field":"t","type":"quantitative","scale":{"domain":[0,30]},"axis":{"orient":"bottom","title":"Time (h)","values":[0,10,20,30]}},"y":{"field":"v","type":"quantitative","scale":{"domain":[0,300]},"axis":{"title":null,"values":[0,100,200,300],"labelExpr":"datum.value == 0 ? '0' : datum.value / 100 + '×10⁵'"}},"color":{"field":"s","type":"nominal"},"shape":{"field":"s","type":"nominal"},"order":{"field":"s","type":"ordinal","sort":"descending"}}},
     {"mark":{"type":"point","opacity":0},"encoding":{"x":{"field":"t","type":"quantitative","axis":{"orient":"top","title":"MEF_Cer_WTD (P5)","labels":false,"ticks":false,"domain":false,"titlePadding":19,"titleBaseline":"alphabetic"}}}}]}
  ],"spacing":99,"bounds":"flush"},
  {"hconcat":[
   {"width":191,"height":127,"data":{"name":"c"},"transform":[{"fold":["th","d3","d2","d1"],"as":["s","v"]}],"title":{"text":"c","dx":12,"offset":11},"resolve":{"axis":{"x":"independent"}},
    "layer":[{"mark":"point","encoding":{"x":{"field":"t","type":"quantitative","scale":{"domain":[0,30]},"axis":{"orient":"bottom","title":"Time (h)","values":[0,10,20,30]}},"y":{"field":"v","type":"quantitative","scale":{"domain":[0,300]},"axis":{"title":"RFU","values":[0,100,200,300],"labelExpr":"datum.value == 0 ? '0' : datum.value / 100 + '×10⁵'"}},"color":{"field":"s","type":"nominal"},"shape":{"field":"s","type":"nominal"},"order":{"field":"s","type":"ordinal","sort":"descending"}}},
     {"mark":{"type":"point","opacity":0},"encoding":{"x":{"field":"t","type":"quantitative","axis":{"orient":"top","title":"MEF_Cer_WTD (P7)","labels":false,"ticks":false,"domain":false,"titlePadding":19,"titleBaseline":"alphabetic"}}}}]},
   {"width":191,"height":127,"data":{"name":"d"},"transform":[{"fold":["th","d3","d2","d1"],"as":["s","v"]}],"title":{"text":"d","dx":-13,"offset":11},"resolve":{"axis":{"x":"independent"}},
    "layer":[{"mark":"point","encoding":{"x":{"field":"t","type":"quantitative","scale":{"domain":[0,30]},"axis":{"orient":"bottom","title":"Time (h)","values":[0,10,20,30]}},"y":{"field":"v","type":"quantitative","scale":{"domain":[0,300]},"axis":{"title":null,"values":[0,100,200,300],"labelExpr":"datum.value == 0 ? '0' : datum.value / 100 + '×10⁵'"}},"color":{"field":"s","type":"nominal"},"shape":{"field":"s","type":"nominal"},"order":{"field":"s","type":"ordinal","sort":"descending"}}},
     {"mark":{"type":"point","opacity":0},"encoding":{"x":{"field":"t","type":"quantitative","axis":{"orient":"top","title":"MEF_Cer_WTD (P9)","labels":false,"ticks":false,"domain":false,"titlePadding":19,"titleBaseline":"alphabetic"}}}}]}
  ],"spacing":99,"bounds":"flush"}
 ],"spacing":3},
 {"hconcat":[
   {"width":191,"height":127,"data":{"name":"e"},"transform":[{"fold":["th","d3","d2","d1"],"as":["s","v"]}],"title":{"text":"e","dx":12,"offset":3},"resolve":{"axis":{"x":"independent"}},
    "layer":[{"mark":"point","encoding":{"x":{"field":"t","type":"quantitative","scale":{"domain":[0,30]},"axis":{"orient":"bottom","title":"Time (h)","values":[0,10,20,30]}},"y":{"field":"v","type":"quantitative","scale":{"domain":[0,300]},"axis":{"title":"RFU","values":[0,100,200,300],"labelExpr":"datum.value == 0 ? '0' : datum.value / 100 + '×10⁵'"}},"color":{"field":"s","type":"nominal"},"shape":{"field":"s","type":"nominal"},"order":{"field":"s","type":"ordinal","sort":"descending"}}},
     {"mark":{"type":"point","opacity":0},"encoding":{"x":{"field":"t","type":"quantitative","axis":{"orient":"top","title":"MEF_Cer_UI (-ve)","labels":false,"ticks":false,"domain":false,"titlePadding":18,"titleBaseline":"alphabetic"}}}}]},
   {"width":191,"height":127,"data":{"name":"f"},"transform":[{"fold":["th","d3","d2","d1"],"as":["s","v"]}],"title":{"text":"f","dx":-14,"offset":0},"resolve":{"axis":{"x":"independent"}},
    "layer":[{"mark":"point","encoding":{"x":{"field":"t","type":"quantitative","scale":{"domain":[0,30]},"axis":{"orient":"bottom","title":"Time (h)","values":[0,10,20,30]}},"y":{"field":"v","type":"quantitative","scale":{"domain":[0,300]},"axis":{"title":null,"values":[0,100,200,300],"labelExpr":"datum.value == 0 ? '0' : datum.value / 100 + '×10⁵'"}},"color":{"field":"s","type":"nominal"},"shape":{"field":"s","type":"nominal"},"order":{"field":"s","type":"ordinal","sort":"descending"}}},
     {"mark":{"type":"point","opacity":0},"encoding":{"x":{"field":"t","type":"quantitative","axis":{"orient":"top","title":"BH_WTD (+ve)","labels":false,"ticks":false,"domain":false,"titlePadding":18,"titleBaseline":"alphabetic"}}}}]}
 ],"spacing":99,"bounds":"flush"}
 ],"spacing":13},
{"title":{"text":"MEF_Cer_MD","anchor":"middle","fontSize":19,"offset":25,"dx":24},
 "vconcat":[
 {"vconcat":[
  {"hconcat":[
   {"width":7,"height":10,"data":{"values":[]},"mark":"point","encoding":{}},
   {"width":186,"height":124,"data":{"name":"g"},"transform":[{"fold":["th","d3","d2","d1"],"as":["s","v"]}],"title":{"text":"g","dx":19,"offset":10},"resolve":{"axis":{"x":"independent"}},
    "layer":[{"mark":"point","encoding":{"x":{"field":"t","type":"quantitative","scale":{"domain":[0,30]},"axis":{"orient":"bottom","title":"Time (h)","values":[0,10,20,30]}},"y":{"field":"v","type":"quantitative","scale":{"domain":[0,300]},"axis":{"title":"RFU","values":[0,100,200,300],"labelExpr":"datum.value == 0 ? '0' : datum.value / 100 + '×10⁵'"}},"color":{"field":"s","type":"nominal","legend":{"title":null,"legendX":312,"legendY":680,"labelExpr":"datum.label == 'd1' ? '10⁻¹' : datum.label == 'd2' ? '10⁻²' : datum.label == 'd3' ? '10⁻³' : 'Threshold'"}},"shape":{"field":"s","type":"nominal","legend":{"title":null,"legendX":312,"legendY":680,"labelExpr":"datum.label == 'd1' ? '10⁻¹' : datum.label == 'd2' ? '10⁻²' : datum.label == 'd3' ? '10⁻³' : 'Threshold'"}},"order":{"field":"s","type":"ordinal","sort":"descending"}}},
     {"mark":{"type":"point","opacity":0},"encoding":{"x":{"field":"t","type":"quantitative","axis":{"orient":"top","title":"MEF_Cer_MD\u00a0 (P3)","labels":false,"ticks":false,"domain":false,"titlePadding":17,"titleBaseline":"alphabetic"}}}}]},
   {"width":186,"height":124,"data":{"name":"h"},"transform":[{"fold":["th","d3","d2","d1"],"as":["s","v"]}],"title":{"text":"h","dx":-21,"offset":7},"resolve":{"axis":{"x":"independent"}},
    "layer":[{"mark":"point","encoding":{"x":{"field":"t","type":"quantitative","scale":{"domain":[0,30]},"axis":{"orient":"bottom","title":"Time (h)","values":[0,10,20,30]}},"y":{"field":"v","type":"quantitative","scale":{"domain":[0,300]},"axis":{"title":null,"values":[0,100,200,300],"labelExpr":"datum.value == 0 ? '0' : datum.value / 100 + '×10⁵'"}},"color":{"field":"s","type":"nominal"},"shape":{"field":"s","type":"nominal"},"order":{"field":"s","type":"ordinal","sort":"descending"}}},
     {"mark":{"type":"point","opacity":0},"encoding":{"x":{"field":"t","type":"quantitative","axis":{"orient":"top","title":"MEF_Cer_MD\u00a0 (P5)","labels":false,"ticks":false,"domain":false,"titlePadding":17,"titleBaseline":"alphabetic"}}}}]}
  ],"spacing":119,"bounds":"flush"},
  {"hconcat":[
   {"width":55,"height":10,"data":{"values":[]},"mark":"point","encoding":{}},
   {"width":186,"height":124,"data":{"name":"i"},"transform":[{"fold":["th","d3","d2","d1"],"as":["s","v"]}],"title":{"text":"i","dx":-1,"offset":16},"resolve":{"axis":{"x":"independent"}},
    "layer":[{"mark":"point","encoding":{"x":{"field":"t","type":"quantitative","scale":{"domain":[0,30]},"axis":{"orient":"bottom","title":"Time (h)","values":[0,10,20,30]}},"y":{"field":"v","type":"quantitative","scale":{"domain":[0,300]},"axis":{"title":"RFU","values":[0,100,200,300],"labelExpr":"datum.value == 0 ? '0' : datum.value / 100 + '×10⁵'"}},"color":{"field":"s","type":"nominal"},"shape":{"field":"s","type":"nominal"},"order":{"field":"s","type":"ordinal","sort":"descending"}}},
     {"mark":{"type":"point","opacity":0},"encoding":{"x":{"field":"t","type":"quantitative","axis":{"orient":"top","title":"MEF_Cer_MD\u00a0 (P7)","labels":false,"ticks":false,"domain":false,"titlePadding":16,"titleBaseline":"alphabetic"}}}}]},
   {"width":186,"height":124,"data":{"name":"j"},"transform":[{"fold":["th","d3","d2","d1"],"as":["s","v"]}],"title":{"text":"j","dx":-25,"offset":16},"resolve":{"axis":{"x":"independent"}},
    "layer":[{"mark":"point","encoding":{"x":{"field":"t","type":"quantitative","scale":{"domain":[0,30]},"axis":{"orient":"bottom","title":"Time (h)","values":[0,10,20,30]}},"y":{"field":"v","type":"quantitative","scale":{"domain":[0,300]},"axis":{"title":null,"values":[0,100,200,300],"labelExpr":"datum.value == 0 ? '0' : datum.value / 100 + '×10⁵'"}},"color":{"field":"s","type":"nominal"},"shape":{"field":"s","type":"nominal"},"order":{"field":"s","type":"ordinal","sort":"descending"}}},
     {"mark":{"type":"point","opacity":0},"encoding":{"x":{"field":"t","type":"quantitative","axis":{"orient":"top","title":"MEF_Cer_MD\u00a0 (P9)","labels":false,"ticks":false,"domain":false,"titlePadding":16,"titleBaseline":"alphabetic"}}}}]}
  ],"spacing":95,"bounds":"flush"}
 ],"spacing":2},
 {"hconcat":[
   {"width":97,"height":10,"data":{"values":[]},"mark":"point","encoding":{}},
   {"width":186,"height":124,"data":{"name":"k"},"transform":[{"fold":["th","d3","d2","d1"],"as":["s","v"]}],"title":{"text":"k","dx":-22,"offset":-7},"resolve":{"axis":{"x":"independent"}},
    "layer":[{"mark":"point","encoding":{"x":{"field":"t","type":"quantitative","scale":{"domain":[0,30]},"axis":{"orient":"bottom","title":"Time (h)","values":[0,10,20,30]}},"y":{"field":"v","type":"quantitative","scale":{"domain":[0,300]},"axis":{"title":"RFU","values":[0,100,200,300],"labelExpr":"datum.value == 0 ? '0' : datum.value / 100 + '×10⁵'"}},"color":{"field":"s","type":"nominal"},"shape":{"field":"s","type":"nominal"},"order":{"field":"s","type":"ordinal","sort":"descending"}}},
     {"mark":{"type":"point","opacity":0},"encoding":{"x":{"field":"t","type":"quantitative","axis":{"orient":"top","title":"MEF_Cer_UI (-ve)","labels":false,"ticks":false,"domain":false,"titlePadding":19,"titleBaseline":"alphabetic"}}}}]},
   {"width":186,"height":124,"data":{"name":"l"},"transform":[{"fold":["th","d3","d2","d1"],"as":["s","v"]}],"title":{"text":"l","dx":-23,"offset":-7},"resolve":{"axis":{"x":"independent"}},
    "layer":[{"mark":"point","encoding":{"x":{"field":"t","type":"quantitative","scale":{"domain":[0,30]},"axis":{"orient":"bottom","title":"Time (h)","values":[0,10,20,30]}},"y":{"field":"v","type":"quantitative","scale":{"domain":[0,300]},"axis":{"title":null,"values":[0,100,200,300],"labelExpr":"datum.value == 0 ? '0' : datum.value / 100 + '×10⁵'"}},"color":{"field":"s","type":"nominal"},"shape":{"field":"s","type":"nominal"},"order":{"field":"s","type":"ordinal","sort":"descending"}}},
     {"mark":{"type":"point","opacity":0},"encoding":{"x":{"field":"t","type":"quantitative","axis":{"orient":"top","title":"BH _MD ( +ve)","labels":false,"ticks":false,"domain":false,"titlePadding":19,"titleBaseline":"alphabetic"}}}}]}
 ],"spacing":74,"bounds":"flush"}
 ],"spacing":27}
],
"spacing":29,
"resolve":{"scale":{"color":"independent","shape":"independent"},"legend":{"color":"independent","shape":"independent"}},
"config":{
 "view":{"stroke":null},
 "font":"Liberation Sans",
 "range":{"category":["#1E9CA4","#962C91","#1F2F8C","#A9B8F5"],"symbol":["circle","square","triangle-up","triangle-down"]},
 "point":{"filled":true,"size":28,"opacity":1},
 "title":{"font":"Liberation Sans","fontSize":25,"fontWeight":"bold","color":"#000000","anchor":"start","frame":"bounds"},
 "axis":{"domainColor":"#1D2387","domainWidth":2,"tickColor":"#1D2387","tickWidth":2,"tickSize":4,"labelColor":"#1D2387","labelFont":"Liberation Sans","labelFontSize":15,"labelFontWeight":"bold","labelFlush":false,"labelOverlap":false,"titleColor":"#1D2387","titleFont":"Liberation Sans","titleFontSize":16,"titleFontWeight":"bold","grid":false},
 "axisX":{"labelPadding":2,"titlePadding":4},
 "axisY":{"labelPadding":1,"titlePadding":6},
 "legend":{"orient":"none","direction":"horizontal","columns":2,"labelFont":"Liberation Sans","labelFontSize":17,"labelFontWeight":"bold","labelColor":"#111111","symbolSize":90,"symbolStrokeWidth":0,"rowPadding":5,"columnPadding":2,"labelOffset":4}
}
}
